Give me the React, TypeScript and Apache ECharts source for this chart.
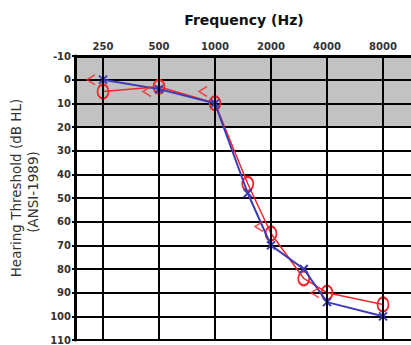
import React, { useEffect, useRef } from "react";
import * as echarts from "echarts";

// Octave frequencies shown on the top axis
const octaveLabels = ["250", "500", "1000", "2000", "4000", "8000"];
const octaveFreqs = [250, 500, 1000, 2000, 4000, 8000];

// Air conduction test frequencies (Hz)
const testFreqs = [250, 500, 1000, 1500, 2000, 3000, 4000, 8000];
// Right ear air conduction (O), dB HL
const rightAir = [5, 3, 10, 44, 65, 84, 90, 95];
// Left ear air conduction (X), dB HL
const leftAir = [0, 4, 10, 48, 70, 80, 94, 100];

// Right ear bone conduction (<)
const boneFreqs = [250, 500, 1000, 2000, 4000];
const rightBone = [0, 5, 5, 62, 90];

// Hearing level scale
const dbMin = -10;
const dbMax = 110;
const dbStep = 10;
// Shaded normal-hearing band per 10 dB row (top three rows)
const bandFill = ["#c2c2c2", "#c2c2c2", "#c2c2c2", "#ffffff", "#ffffff", "#ffffff", "#ffffff", "#ffffff", "#ffffff", "#ffffff", "#ffffff", "#ffffff"];

const RED = "#f0282d";
const BLUE = "#3c3cb4";
const FONT = "DejaVu Sans";

const octavePos = (f: number) => Math.log2(f / 250);

const O_SYMBOL = "path://M6,0C9.3,0 12,3.6 12,8C12,12.4 9.3,16 6,16C2.7,16 0,12.4 0,8C0,3.6 2.7,0 6,0Z";
const X_SYMBOL = "path://M0,0L10,10M10,0L0,10";
const LT_SYMBOL = "path://M10,0L0,6L10,12";

export default function App() {
  const ref = useRef<HTMLDivElement>(null);

  useEffect(() => {
    document.body.style.margin = "0";
    if (!ref.current) return;
    const chart = echarts.init(ref.current, undefined, { renderer: "svg" });

    chart.setOption({
      animation: false,
      grid: { left: 75, top: 56, width: 338, bottom: 0 },
      xAxis: [
        {
          type: "category",
          data: octaveLabels,
          position: "top",
          boundaryGap: true,
          axisLine: { show: true, onZero: false, lineStyle: { color: "#000", width: 3 } },
          axisTick: { show: false },
          splitLine: { show: false },
          axisLabel: {
            margin: 5,
            fontSize: 10,
            fontWeight: "bold",
            fontFamily: FONT,
            color: "#333",
          },
        },
        {
          type: "value",
          min: -0.5,
          max: 5.5,
          show: false,
          position: "top",
        },
      ],
      yAxis: {
        type: "value",
        inverse: true,
        min: dbMin,
        max: dbMax,
        interval: dbStep,
        axisLine: { show: true, onZero: false, lineStyle: { color: "#000", width: 3 } },
        axisTick: { show: true, length: 3, lineStyle: { color: "#000", width: 2 } },
        axisLabel: {
          margin: 4,
          fontSize: 10,
          fontWeight: "bold",
          fontFamily: FONT,
          color: "#333",
        },
        splitLine: { show: true, lineStyle: { color: "#000", width: 2 } },
        splitArea: { show: true, areaStyle: { color: bandFill } },
      },
      graphic: [
        {
          type: "text",
          x: 244,
          y: 20,
          style: {
            text: "Frequency (Hz)",
            fontSize: 14,
            fontWeight: "bold",
            fontFamily: FONT,
            fill: "#111",
            align: "center",
            verticalAlign: "middle",
          },
        },
        {
          type: "text",
          x: 16,
          y: 188,
          rotation: Math.PI / 2,
          style: {
            text: "Hearing Threshold (dB HL)",
            fontSize: 13.5,
            fontFamily: FONT,
            fill: "#333",
            align: "center",
            verticalAlign: "middle",
          },
        },
        {
          type: "text",
          x: 33,
          y: 192,
          rotation: Math.PI / 2,
          style: {
            text: "(ANSI-1989)",
            fontSize: 13.5,
            fontFamily: FONT,
            fill: "#333",
            align: "center",
            verticalAlign: "middle",
          },
        },
      ],
      series: [
        {
          // vertical octave grid lines
          type: "line",
          xAxisIndex: 1,
          data: [],
          z: 1,
          silent: true,
          markLine: {
            silent: true,
            symbol: ["none", "none"],
            label: { show: false },
            lineStyle: { color: "#000", width: 2, type: "solid" },
            data: octaveFreqs.map((f) => ({ xAxis: octavePos(f) })),
          },
        },
        {
          name: "Right AC",
          type: "line",
          xAxisIndex: 1,
          data: testFreqs.map((f, i) => [octavePos(f), rightAir[i]]),
          symbol: O_SYMBOL,
          symbolSize: [11, 14],
          lineStyle: { color: RED, width: 1.5 },
          itemStyle: { color: "rgba(0,0,0,0)", borderColor: RED, borderWidth: 2 },
          z: 3,
          silent: true,
        },
        {
          name: "Left AC",
          type: "line",
          xAxisIndex: 1,
          data: testFreqs.map((f, i) => [octavePos(f), leftAir[i]]),
          symbol: X_SYMBOL,
          symbolSize: 8,
          lineStyle: { color: BLUE, width: 2 },
          itemStyle: { color: "rgba(0,0,0,0)", borderColor: BLUE, borderWidth: 2 },
          z: 4,
          silent: true,
        },
        {
          name: "Right BC",
          type: "scatter",
          xAxisIndex: 1,
          data: boneFreqs.map((f, i) => [octavePos(f), rightBone[i]]),
          symbol: LT_SYMBOL,
          symbolSize: [8, 10],
          symbolOffset: [-12, 0],
          itemStyle: { color: "rgba(0,0,0,0)", borderColor: RED, borderWidth: 1.5 },
          z: 5,
          silent: true,
        },
      ],
    });

    return () => chart.dispose();
  }, []);

  return <div ref={ref} style={{ width: 411, height: 345 }} />;
}
